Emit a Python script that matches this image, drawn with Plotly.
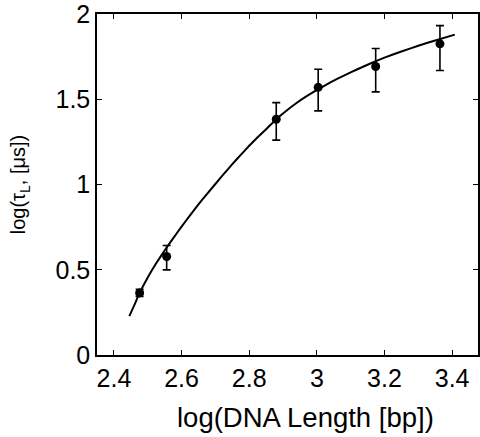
import plotly.graph_objects as go

# Measured data points (log10 DNA length vs log10 tau_L)
dna_log_len = [2.476, 2.556, 2.880, 3.004, 3.174, 3.364]
tau_log = [0.364, 0.578, 1.383, 1.570, 1.692, 1.825]
err_plus = [0.021, 0.064, 0.097, 0.106, 0.106, 0.107]
err_minus = [0.020, 0.079, 0.123, 0.138, 0.149, 0.156]

# Fitted curve, sampled (read) from the picture
fit_x = [2.4456, 2.46, 2.476, 2.50, 2.525, 2.55, 2.575, 2.60, 2.625, 2.65,
         2.675, 2.70, 2.725, 2.75, 2.775, 2.80, 2.825, 2.85, 2.88, 2.91,
         2.94, 2.97, 3.004, 3.04, 3.08, 3.12, 3.16, 3.20, 3.25, 3.30,
         3.35, 3.408]
fit_y = [0.228, 0.291, 0.364, 0.455, 0.538, 0.613, 0.684, 0.753, 0.819, 0.883,
         0.944, 1.003, 1.062, 1.119, 1.174, 1.227, 1.277, 1.324, 1.383, 1.433,
         1.478, 1.518, 1.559, 1.599, 1.639, 1.676, 1.711, 1.744, 1.780, 1.814,
         1.845, 1.879]

x_ticks = [2.4, 2.6, 2.8, 3.0, 3.2, 3.4]
x_tick_text = ["2.4", "2.6", "2.8", "3", "3.2", "3.4"]
y_ticks = [0, 0.5, 1, 1.5, 2]
y_tick_text = ["0", "0.5", "1", "1.5", "2"]

x_title = "log(DNA Length [bp])"
y_title = "log(τ<sub>L</sub>, [μs])"

FONT = "Liberation Sans, Arial, Helvetica, sans-serif"

fig = go.Figure()
fig.add_trace(go.Scatter(
    x=fit_x, y=fit_y, mode="lines",
    line=dict(color="black", width=2, shape="spline", smoothing=0.3),
    showlegend=False, hoverinfo="skip"))
fig.add_trace(go.Scatter(
    x=dna_log_len, y=tau_log, mode="markers",
    marker=dict(color="black", size=9, symbol="circle"),
    error_y=dict(type="data", symmetric=False, array=err_plus,
                 arrayminus=err_minus, color="black", thickness=1.6, width=4),
    showlegend=False))

fig.update_layout(
    width=480, height=437,
    margin=dict(l=97, r=0, t=9, b=82),
    paper_bgcolor="white", plot_bgcolor="white",
    font=dict(family=FONT, color="black", size=24),
    xaxis=dict(
        range=[2.35, 3.4765], tickvals=x_ticks, ticktext=x_tick_text,
        ticks="inside", ticklen=5, tickwidth=1.2, tickcolor="black",
        showline=True, linecolor="black", linewidth=1.5, mirror="allticks",
        showgrid=False, zeroline=False, ticklabeloverflow="allow",
        tickfont=dict(size=25),
    ),
    yaxis=dict(
        range=[0, 2], tickvals=y_ticks, ticktext=y_tick_text,
        ticks="inside", ticklen=5, tickwidth=1.2, tickcolor="black",
        showline=True, linecolor="black", linewidth=1.5, mirror="allticks",
        showgrid=False, zeroline=False, ticklabeloverflow="allow",
        tickfont=dict(size=25),
        title=dict(text=y_title, font=dict(size=20), standoff=24),
    ),
    annotations=[dict(
        text=x_title, xref="paper", yref="paper",
        x=0.548, y=-0.182, xanchor="center", yanchor="middle",
        showarrow=False, font=dict(size=27.5, family=FONT, color="black"))],
)

fig.write_html("out.html")
